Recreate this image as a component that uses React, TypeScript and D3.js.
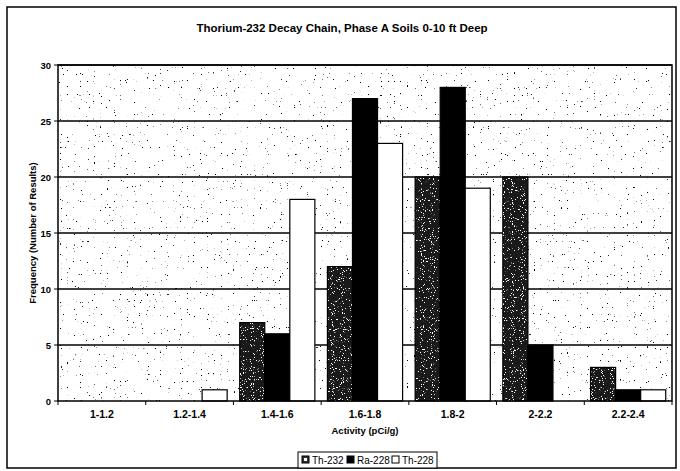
import * as d3 from 'd3'

const categories = ['1-1.2', '1.2-1.4', '1.4-1.6', '1.6-1.8', '1.8-2', '2-2.2', '2.2-2.4']
const seriesNames = ['Th-232', 'Ra-228', 'Th-228']
const th232 = [0, 0, 7, 12, 20, 20, 3]
const ra228 = [0, 0, 6, 27, 28, 5, 1]
const th228 = [0, 1, 18, 23, 19, 0, 1]
const yTicks = [0, 5, 10, 15, 20, 25, 30]

const W = 680
const H = 471
const margin = { top: 65, right: 8, bottom: 70, left: 58 }
const font = '"Liberation Sans", Arial, sans-serif'

export default function App() {
  const innerW = W - margin.left - margin.right
  const innerH = H - margin.top - margin.bottom
  const values = [th232, ra228, th228]

  const x = d3.scaleBand().domain(categories).range([0, innerW]).paddingInner(0.143).paddingOuter(0.0715)
  const x1 = d3.scaleBand().domain(seriesNames).range([0, x.bandwidth()])
  const y = d3.scaleLinear().domain([0, 30]).range([innerH, 0])
  const bw = x1.bandwidth()

  const catStep = innerW / categories.length

  return (
    <svg width={W} height={H} style={{ position: 'absolute', left: 0, top: 0, background: '#fff' }}>
      <defs>
        <filter id="darkDots" x="0" y="0" width="1" height="1">
          <feTurbulence type="fractalNoise" baseFrequency="0.85" numOctaves="1" seed="4" />
          <feColorMatrix type="matrix" values="0 0 0 0 0  0 0 0 0 0  0 0 0 0 0  24 0 0 0 -17" />
        </filter>
        <filter id="lightDots" x="0" y="0" width="1" height="1">
          <feTurbulence type="fractalNoise" baseFrequency="0.9" numOctaves="1" seed="9" />
          <feColorMatrix type="matrix" values="0 0 0 0 1  0 0 0 0 1  0 0 0 0 1  -20 0 0 0 7.4" />
        </filter>
      </defs>

      <rect x={7} y={7} width={669} height={461} fill="none" stroke="#000" strokeWidth={1.5} />

      <text x={342} y={32} textAnchor="middle" fontFamily={font} fontSize={11.5} fontWeight="bold">
        Thorium-232 Decay Chain, Phase A Soils 0-10 ft Deep
      </text>

      <g transform={`translate(${margin.left},${margin.top})`}>
        <rect x={0} y={0} width={innerW} height={innerH} fill="#fff" />
        <rect x={0} y={0} width={innerW} height={innerH} fill="#000" filter="url(#darkDots)" />

        {yTicks.slice(1).map((t) => (
          <line key={t} x1={0} x2={innerW} y1={y(t)} y2={y(t)} stroke="#000" strokeWidth={1.5} />
        ))}

        {categories.map((c, i) =>
          seriesNames.map((s, j) => {
            const v = values[j][i]
            if (!v) return null
            const bx = (x(c) ?? 0) + (x1(s) ?? 0)
            const by = y(v)
            const bh = innerH - by
            return (
              <g key={c + s}>
                <rect x={bx} y={by} width={bw} height={bh}
                  fill={j === 0 ? '#1a1a1a' : j === 1 ? '#000' : '#fff'} stroke="#000" strokeWidth={1.2} />
                {j === 0 && <rect x={bx + 1} y={by + 1} width={bw - 2} height={bh - 1} fill="#fff" filter="url(#lightDots)" />}
              </g>
            )
          })
        )}

        <rect x={0} y={0} width={innerW} height={innerH} fill="none" stroke="#000" strokeWidth={1.5} />

        <g fontFamily={font} fontSize={9.5} fontWeight="bold" textAnchor="end">
          {yTicks.map((t) => (
            <g key={t}>
              <line x1={-4} x2={0} y1={y(t)} y2={y(t)} stroke="#000" />
              <text x={-7} y={y(t) + 3.5}>{t}</text>
            </g>
          ))}
        </g>

        <g fontFamily={font} fontSize={10.5} fontWeight="bold" textAnchor="middle">
          {categories.map((c, i) => (
            <g key={c}>
              <line x1={catStep * i} x2={catStep * i} y1={innerH} y2={innerH + 4} stroke="#000" />
              <text x={(x(c) ?? 0) + x.bandwidth() / 2} y={innerH + 17}>{c}</text>
            </g>
          ))}
          <line x1={innerW} x2={innerW} y1={innerH} y2={innerH + 4} stroke="#000" />
        </g>

        <text x={innerW / 2} y={innerH + 33} textAnchor="middle" fontFamily={font} fontSize={9.5} fontWeight="bold">
          Activity (pCi/g)
        </text>
      </g>

      <text transform={`translate(36,${margin.top + innerH / 2}) rotate(-90)`} textAnchor="middle"
        fontFamily={font} fontSize={9.5} fontWeight="bold">
        Frequency (Number of Results)
      </text>

      <g transform="translate(298,452)" fontFamily={font} fontSize={10}>
        <rect x={0} y={0} width={139} height={16} fill="#fff" stroke="#000" strokeWidth={1} />
        {seriesNames.map((s, j) => (
          <g key={s} transform={`translate(${4 + j * 45},4)`}>
            <rect x={0} y={0} width={7} height={7} fill={j === 2 ? '#fff' : j === 0 ? '#333' : '#000'} stroke="#000" />
            {j === 0 && <rect x={2} y={2} width={3} height={3} fill="#fff" />}
            <text x={10} y={7.5}>{s}</text>
          </g>
        ))}
      </g>
    </svg>
  )
}
